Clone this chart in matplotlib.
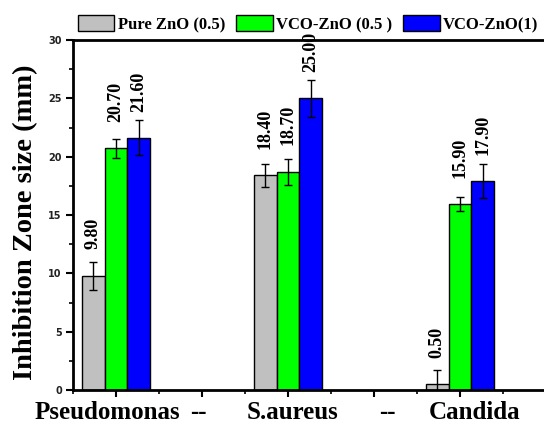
import matplotlib
matplotlib.use("Agg")
import matplotlib.pyplot as plt
import matplotlib.transforms as mtransforms
import numpy as np
from matplotlib.ticker import MultipleLocator, FixedLocator

categories = ["Pseudomonas", "--", "S.aureus", "--", "Candida"]
group_pos = [1, 3, 5]
series_names = ["Pure ZnO (0.5)", "VCO-ZnO (0.5 )", "VCO-ZnO(1)"]
pure_zno = [9.80, 18.40, 0.50]
vco_05 = [20.70, 18.70, 15.90]
vco_1 = [21.60, 25.00, 17.90]
err_pure = [1.2, 1.0, 1.2]
err_vco05 = [0.8, 1.1, 0.6]
err_vco1 = [1.5, 1.6, 1.45]
colors = ["#c0c0c0", "#00ff00", "#0000ff"]

fig = plt.figure(figsize=(5.44, 4.23), dpi=100)
ax = fig.add_axes([73/544, 1-390/423, (546-73)/544, (390-40)/423])

serif = "Liberation Serif"
width = 0.267
offsets = [-width, 0, width]
values = [pure_zno, vco_05, vco_1]
errs = [err_pure, err_vco05, err_vco1]
for i in range(3):
    x = np.array(group_pos) + offsets[i]
    ax.bar(x, values[i], width=width, color=colors[i], edgecolor="black",
           linewidth=1.0, label=series_names[i], zorder=2)
    ax.errorbar(x, values[i], yerr=errs[i], fmt="none", ecolor="black",
                elinewidth=1.0, capsize=3, capthick=1.0, zorder=3)
    for xi, v in zip(x, values[i]):
        ax.annotate(f"{v:.2f}", (xi, v), xytext=(0, 19), textcoords="offset points",
                    rotation=90, ha="center", va="bottom", fontsize=13,
                    family=serif, fontweight="bold", annotation_clip=False)

ax.set_xlim(0.5, 6.0)
ax.set_ylim(0, 30)
ax.set_xticks(range(1, 6))
ax.set_xticklabels(categories, fontsize=18, family=serif, fontweight="bold")
ax.xaxis.set_minor_locator(FixedLocator(np.arange(0.5, 6, 1)))
ax.yaxis.set_major_locator(MultipleLocator(5))
ax.yaxis.set_minor_locator(MultipleLocator(2.5))
ax.tick_params(axis="both", which="major", direction="out", length=5, width=1.5)
ax.tick_params(axis="both", which="minor", direction="out", length=3, width=1.2)
ax.tick_params(axis="y", labelsize=7, pad=3)
for lab in ax.get_yticklabels():
    lab.set_fontweight("bold")
    lab.set_color("#222222")
ax.tick_params(axis="x", pad=3)

# small horizontal nudges of the category labels (pixels)
nudges = [-9, -4, 5, 13, 15]
for lab, dx in zip(ax.get_xticklabels(), nudges):
    lab.set_transform(lab.get_transform() +
                      mtransforms.ScaledTranslation(dx / 100, 0, fig.dpi_scale_trans))

for s in ["left", "bottom", "top"]:
    ax.spines[s].set_linewidth(2)
ax.spines["right"].set_visible(False)

ax.set_ylabel("Inhibition Zone size (mm)", fontsize=20.5, family=serif,
              fontweight="bold")
ax.yaxis.set_label_coords(-0.073, 0.48)

leg = ax.legend(loc="lower left", bbox_to_anchor=(0.01, 1.02), ncol=3, frameon=False,
                prop={"family": serif, "weight": "bold", "size": 12},
                handlelength=2.2, handleheight=1.1, handletextpad=0.2,
                columnspacing=0.65, borderpad=0, borderaxespad=0)

fig.savefig("out.png", dpi=100)
